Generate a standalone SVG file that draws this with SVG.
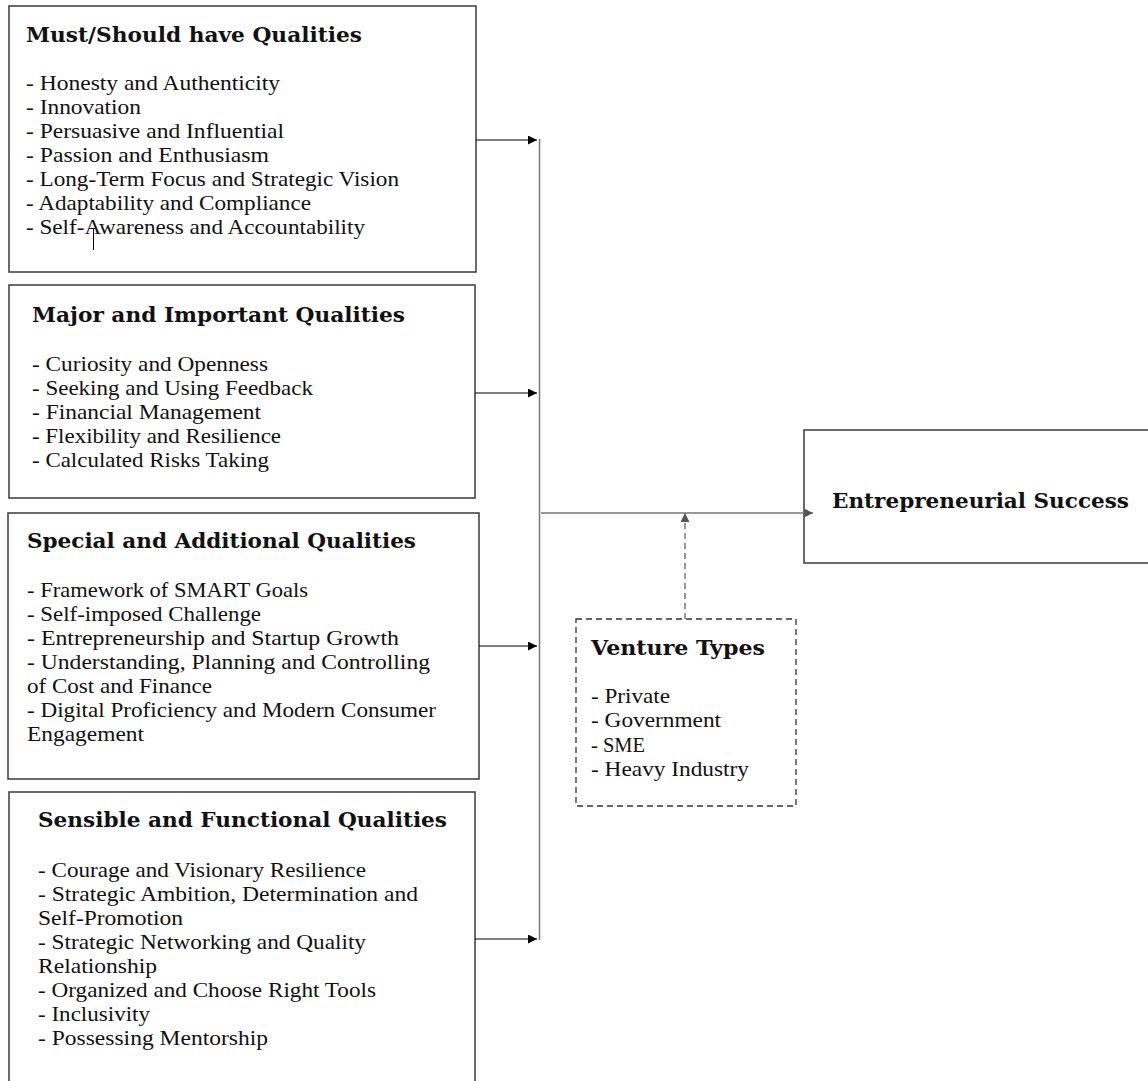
<svg xmlns="http://www.w3.org/2000/svg" width="1148" height="1081" viewBox="0 0 1148 1081">
<style>
.box{fill:#fff;stroke:#3a3a3a;stroke-width:1.5}
.dbox{fill:#fff;stroke:#333;stroke-width:1.3;stroke-dasharray:6 4}
.t{font-family:"Liberation Serif","DejaVu Serif",serif;font-size:21px;fill:#111}
.h{font-family:"DejaVu Serif","Liberation Serif",serif;font-size:20.5px;font-weight:bold;fill:#111}
.c{fill:none;stroke:#000;stroke-width:1.2}
.g{fill:none;stroke:#777;stroke-width:1.5}
.gd{fill:none;stroke:#777;stroke-width:1.5;stroke-dasharray:6 4}
</style>
<defs>
<marker id="ab" viewBox="0 0 10 10" refX="10" refY="5" markerWidth="10" markerHeight="9" markerUnits="userSpaceOnUse" orient="auto"><path d="M0,0 L10,5 L0,10 z" fill="#000"/></marker>
<marker id="ag" viewBox="0 0 10 10" refX="10" refY="5" markerWidth="10" markerHeight="9" markerUnits="userSpaceOnUse" orient="auto"><path d="M0,0 L10,5 L0,10 z" fill="#555"/></marker>
</defs>
<rect width="1148" height="1081" fill="#fff"/>

<g id="must">
<rect class="box" x="9" y="6" width="467" height="266"/>
<text class="h" x="26" y="41.5" textLength="336" lengthAdjust="spacingAndGlyphs">Must/Should have Qualities</text>
<text class="t" x="26" y="90" textLength="254" lengthAdjust="spacingAndGlyphs">- Honesty and Authenticity</text>
<text class="t" x="26" y="114" textLength="115" lengthAdjust="spacingAndGlyphs">- Innovation</text>
<text class="t" x="26" y="138" textLength="258" lengthAdjust="spacingAndGlyphs">- Persuasive and Influential</text>
<text class="t" x="26" y="162" textLength="243" lengthAdjust="spacingAndGlyphs">- Passion and Enthusiasm</text>
<text class="t" x="26" y="186" textLength="373" lengthAdjust="spacingAndGlyphs">- Long-Term Focus and Strategic Vision</text>
<text class="t" x="26" y="210" textLength="285" lengthAdjust="spacingAndGlyphs">- Adaptability and Compliance</text>
<text class="t" x="26" y="234" textLength="339" lengthAdjust="spacingAndGlyphs">- Self-Awareness and Accountability</text>
<line x1="93.5" y1="228" x2="93.5" y2="250" stroke="#000" stroke-width="1"/>
</g>

<g id="major">
<rect class="box" x="9" y="285" width="466" height="213"/>
<text class="h" x="32" y="322" textLength="373" lengthAdjust="spacingAndGlyphs">Major and Important Qualities</text>
<text class="t" x="32" y="371" textLength="236" lengthAdjust="spacingAndGlyphs">- Curiosity and Openness</text>
<text class="t" x="32" y="395" textLength="281" lengthAdjust="spacingAndGlyphs">- Seeking and Using Feedback</text>
<text class="t" x="32" y="419" textLength="229" lengthAdjust="spacingAndGlyphs">- Financial Management</text>
<text class="t" x="32" y="443" textLength="249" lengthAdjust="spacingAndGlyphs">- Flexibility and Resilience</text>
<text class="t" x="32" y="467" textLength="237" lengthAdjust="spacingAndGlyphs">- Calculated Risks Taking</text>
</g>

<g id="special">
<rect class="box" x="8" y="513" width="471" height="266"/>
<text class="h" x="27" y="548" textLength="389" lengthAdjust="spacingAndGlyphs">Special and Additional Qualities</text>
<text class="t" x="27" y="597" textLength="281" lengthAdjust="spacingAndGlyphs">- Framework of SMART Goals</text>
<text class="t" x="27" y="621" textLength="234" lengthAdjust="spacingAndGlyphs">- Self-imposed Challenge</text>
<text class="t" x="27" y="645" textLength="372" lengthAdjust="spacingAndGlyphs">- Entrepreneurship and Startup Growth</text>
<text class="t" x="27" y="669" textLength="403" lengthAdjust="spacingAndGlyphs">- Understanding, Planning and Controlling</text>
<text class="t" x="27" y="693" textLength="185" lengthAdjust="spacingAndGlyphs">of Cost and Finance</text>
<text class="t" x="27" y="717" textLength="409" lengthAdjust="spacingAndGlyphs">- Digital Proficiency and Modern Consumer</text>
<text class="t" x="27" y="741" textLength="117" lengthAdjust="spacingAndGlyphs">Engagement</text>
</g>

<g id="sensible">
<rect class="box" x="9" y="792" width="466" height="300"/>
<text class="h" x="38" y="827" textLength="409" lengthAdjust="spacingAndGlyphs">Sensible and Functional Qualities</text>
<text class="t" x="38" y="877" textLength="328" lengthAdjust="spacingAndGlyphs">- Courage and Visionary Resilience</text>
<text class="t" x="38" y="901" textLength="380" lengthAdjust="spacingAndGlyphs">- Strategic Ambition, Determination and</text>
<text class="t" x="38" y="925" textLength="145" lengthAdjust="spacingAndGlyphs">Self-Promotion</text>
<text class="t" x="38" y="949" textLength="328" lengthAdjust="spacingAndGlyphs">- Strategic Networking and Quality</text>
<text class="t" x="38" y="973" textLength="119" lengthAdjust="spacingAndGlyphs">Relationship</text>
<text class="t" x="38" y="997" textLength="338" lengthAdjust="spacingAndGlyphs">- Organized and Choose Right Tools</text>
<text class="t" x="38" y="1021" textLength="112" lengthAdjust="spacingAndGlyphs">- Inclusivity</text>
<text class="t" x="38" y="1045" textLength="230" lengthAdjust="spacingAndGlyphs">- Possessing Mentorship</text>
</g>

<g id="success">
<rect class="box" x="804" y="430" width="360" height="133"/>
<text class="h" x="832" y="508" textLength="297" lengthAdjust="spacingAndGlyphs">Entrepreneurial Success</text>
</g>

<g id="venture">
<rect class="dbox" x="576" y="619" width="220" height="187"/>
<text class="h" x="591" y="655" textLength="174" lengthAdjust="spacingAndGlyphs">Venture Types</text>
<text class="t" x="591" y="703" textLength="79" lengthAdjust="spacingAndGlyphs">- Private</text>
<text class="t" x="591" y="727" textLength="130" lengthAdjust="spacingAndGlyphs">- Government</text>
<text class="t" x="591" y="752" textLength="54" lengthAdjust="spacingAndGlyphs">- SME</text>
<text class="t" x="591" y="776" textLength="158" lengthAdjust="spacingAndGlyphs">- Heavy Industry</text>
</g>

<g id="connectors">
<line class="g" x1="539.5" y1="139" x2="539.5" y2="940"/>
<line class="c" x1="476" y1="140" x2="537" y2="140" marker-end="url(#ab)"/>
<line class="c" x1="475" y1="393" x2="537" y2="393" marker-end="url(#ab)"/>
<line class="c" x1="479" y1="646" x2="537" y2="646" marker-end="url(#ab)"/>
<line class="c" x1="475" y1="939" x2="537" y2="939" marker-end="url(#ab)"/>
<line class="g" x1="541" y1="513" x2="813" y2="513" marker-end="url(#ag)"/>
<line class="gd" x1="685" y1="619" x2="685" y2="513" marker-end="url(#ag)"/>
</g>
</svg>
